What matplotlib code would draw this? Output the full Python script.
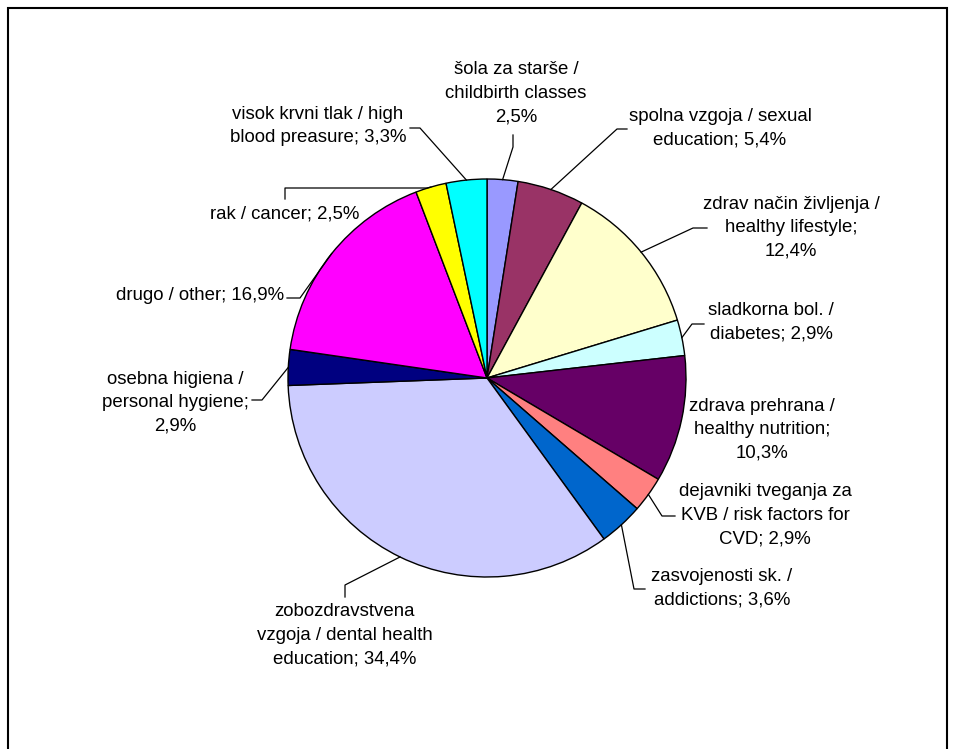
import matplotlib
matplotlib.use("Agg")
import matplotlib.pyplot as plt
from matplotlib.patches import Rectangle
import numpy as np

plt.rcParams["font.family"] = ["Liberation Sans", "DejaVu Sans"]

# slices, clockwise from 12 o'clock
labels = [
    "šola za starše /\nchildbirth classes\n2,5%",
    "spolna vzgoja / sexual\neducation; 5,4%",
    "zdrav način življenja /\nhealthy lifestyle;\n12,4%",
    "sladkorna bol. /\ndiabetes; 2,9%",
    "zdrava prehrana /\nhealthy nutrition;\n10,3%",
    "dejavniki tveganja za\nKVB / risk factors for\nCVD; 2,9%",
    "zasvojenosti sk. /\naddictions; 3,6%",
    "zobozdravstvena\nvzgoja / dental health\neducation; 34,4%",
    "osebna higiena /\npersonal hygiene;\n2,9%",
    "drugo / other; 16,9%",
    "rak / cancer; 2,5%",
    "visok krvni tlak / high\nblood preasure; 3,3%",
]
values = [2.5, 5.4, 12.4, 2.9, 10.3, 2.9, 3.6, 34.4, 2.9, 16.9, 2.5, 3.3]
colors = ["#9999FF", "#993366", "#FFFFCC", "#CCFFFF", "#660066", "#FF8080",
          "#0066CC", "#CCCCFF", "#000080", "#FF00FF", "#FFFF00", "#00FFFF"]

# layout in pixel coords (y down): text centre, leader points from label side
W, H = 954, 749
cx, cy, R = 487, 378, 199
text_pos = [(516, 93), (720, 128), (791, 228), (771, 322), (762, 430), (765, 515),
            (722, 588), (345, 635), (175, 403), (284, 296), (285, 214), (318, 126)]
leaders = [
    [(513, 135), (513, 147)],
    [(627, 129), (617, 129)],
    [(707, 228), (693, 228)],
    [(704, 324), (692, 324)],
    None,
    [(675, 516), (662, 516)],
    [(645, 589), (634, 589)],
    [(345, 597), (345, 585)],
    [(252, 400), (262, 400)],
    [(287, 298), (300, 298)],
    [(285, 199), (285, 188), (427, 188)],
    [(410, 128), (420, 128)],
]
ha = ["center"] * len(labels)
ha[9] = "right"

fig = plt.figure(figsize=(W / 100, H / 100), dpi=100)
ax = fig.add_axes([0, 0, 1, 1])

ax.pie(values, colors=colors, startangle=90, counterclock=False, radius=R,
       center=(cx, H - cy),
       wedgeprops=dict(edgecolor="black", linewidth=1.0))
ax.set_xlim(0, W)
ax.set_ylim(0, H)
ax.set_aspect("equal")
ax.axis("off")

cum = np.cumsum([0] + values[:-1])
for i, (lab, v) in enumerate(zip(labels, values)):
    ang = np.deg2rad(90 - 360 * (cum[i] + v / 2) / 100)
    ex, ey = cx + R * np.cos(ang), cy - R * np.sin(ang)
    if leaders[i] is not None:
        pts = leaders[i] + [(ex, ey)]
        ax.plot([p[0] for p in pts], [H - p[1] for p in pts], color="black", lw=0.9)
    tx, ty = text_pos[i]
    ax.text(tx, H - ty, lab, ha=ha[i], va="center", fontsize=13.4,
            linespacing=1.5, color="black")

# outer chart frame (bottom edge is outside the image)
ax.add_patch(Rectangle((8, -20), 939, H - 8 + 20, fill=False,
                       edgecolor="black", lw=1.5, clip_on=False))

fig.savefig("out.png", dpi=100)
